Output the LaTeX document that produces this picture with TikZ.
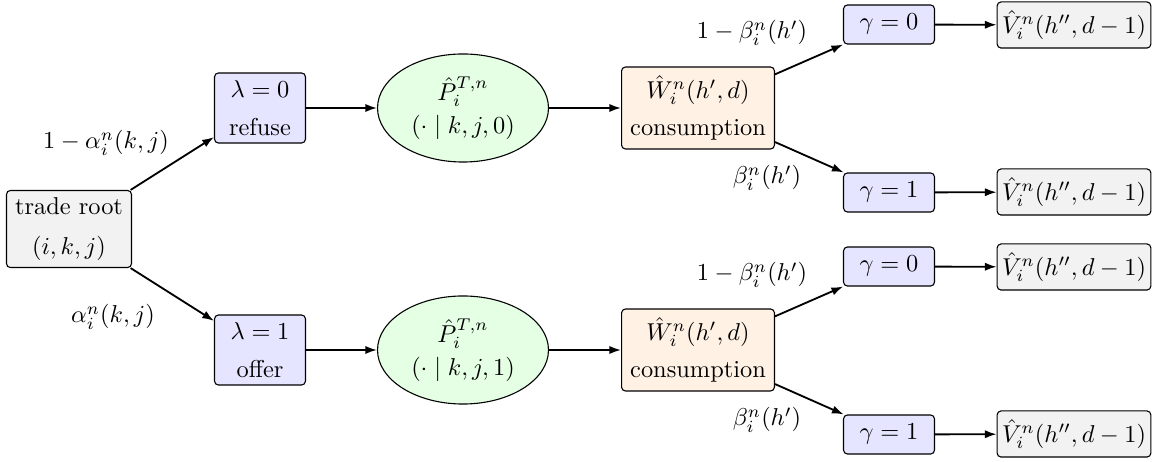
\documentclass[tikz,border=0pt]{standalone}
\usetikzlibrary{arrows.meta,shapes.geometric}
\begin{document}
\begin{tikzpicture}[x=0.41pt,y=-0.41pt,
  base/.style={draw=black, line width=0.45pt, rounded corners=1.6pt, align=center, inner sep=2pt},
  rootbox/.style={base, fill=gray!10, minimum width=51.25pt, minimum height=31.6pt},
  choicebox/.style={base, fill=blue!10, minimum width=37.3pt, minimum height=28.7pt},
  transell/.style={draw=black, line width=0.45pt, ellipse, fill=green!10, align=center, inner sep=1pt, minimum width=70.1pt, minimum height=44.3pt},
  consbox/.style={base, fill=orange!10, minimum width=62.7pt, minimum height=33.6pt},
  gammabox/.style={base, fill=blue!10, minimum width=37.3pt, minimum height=16pt},
  valbox/.style={base, fill=gray!10, minimum width=61.9pt, minimum height=18.9pt},
  arr/.style={-{Latex[length=4.8pt,width=3.4pt]}, line width=0.75pt},
  lbl/.style={inner sep=0pt}
]
\useasboundingbox (0,0) rectangle (1156,462);

% root
\node[rootbox] (root) at (69,229) {trade root\\[4.4pt]$(i,k,j)$};

% upper branch
\node[choicebox] (l0) at (260,108) {$\lambda=0$\\[3.6pt]refuse};
\node[transell] (p0) at (463,108) {$\hat P_i^{T,n}$\\[1.5pt]$(\cdot\mid k,j,0)$};
\node[consbox] (w0) at (698,108) {$\hat W_i^n(h',d)$\\[3.3pt]consumption};
\node[gammabox] (g00) at (889,24.5) {$\gamma=0$};
\node[gammabox] (g01) at (889,192.5) {$\gamma=1$};
\node[valbox] (v00) at (1074,25) {$\hat V_i^n(h'',d-1)$};
\node[valbox] (v01) at (1074,192) {$\hat V_i^n(h'',d-1)$};

% lower branch
\node[choicebox] (l1) at (260,350) {$\lambda=1$\\[3.6pt]offer};
\node[transell] (p1) at (463,350) {$\hat P_i^{T,n}$\\[1.5pt]$(\cdot\mid k,j,1)$};
\node[consbox] (w1) at (698,350) {$\hat W_i^n(h',d)$\\[3.3pt]consumption};
\node[gammabox] (g10) at (889,266.5) {$\gamma=0$};
\node[gammabox] (g11) at (889,434.5) {$\gamma=1$};
\node[valbox] (v10) at (1074,267) {$\hat V_i^n(h'',d-1)$};
\node[valbox] (v11) at (1074,434) {$\hat V_i^n(h'',d-1)$};

% connectors
\draw[arr] (root) -- (l0);
\draw[arr] (root) -- (l1);
\draw[arr] (l0) -- (p0);
\draw[arr] (p0) -- (w0);
\draw[arr] (w0) -- (g00);
\draw[arr] (w0) -- (g01);
\draw[arr] (g00) -- (v00);
\draw[arr] (g01) -- (v01);
\draw[arr] (l1) -- (p1);
\draw[arr] (p1) -- (w1);
\draw[arr] (w1) -- (g10);
\draw[arr] (w1) -- (g11);
\draw[arr] (g10) -- (v10);
\draw[arr] (g11) -- (v11);

% labels
\node[lbl] (la0) at (106,143) {$1-\alpha_i^n(k,j)$};
\node[lbl] (la1) at (113,317) {$\alpha_i^n(k,j)$};
\node[lbl] (lb00) at (752,33) {$1-\beta_i^n(h')$};
\node[lbl] (lb01) at (767,178) {$\beta_i^n(h')$};
\node[lbl] (lb10) at (752,275) {$1-\beta_i^n(h')$};
\node[lbl] (lb11) at (767,420) {$\beta_i^n(h')$};
\end{tikzpicture}
\end{document}
